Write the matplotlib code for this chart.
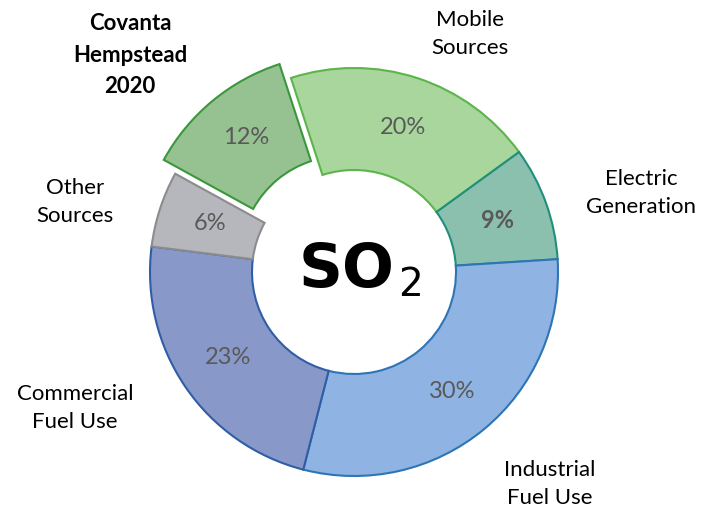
import matplotlib.pyplot as plt

labels = ["Mobile\nSources", "Electric\nGeneration", "Industrial\nFuel Use",
          "Commercial\nFuel Use", "Other\nSources", "Covanta\nHempstead\n2020"]
shares = [20, 9, 30, 23, 6, 12]
fills = ["#a8d69c", "#8cc0ae", "#8fb3e2", "#8898c9", "#b6b7bc", "#96c292"]
edges = ["#5cb54a", "#1f8f7c", "#2e75b6", "#2f5ea6", "#8c8c8c", "#3b973b"]
explode = [0, 0, 0, 0, 0, 18]   # pixels, pie does not scale it by radius

# where the outside names and the % labels sit (pixel coords, y from top)
name_pos = [(470, 34), (641, 193), (550, 484), (75, 408), (75, 202), (130, 55)]
pct_pos = [(403, 128), (497, 220), (452, 392), (228, 357), (210, 224), (246, 138)]

W, H = 704, 514
fig = plt.figure(figsize=(W / 100, H / 100), dpi=100)
ax = fig.add_axes([0, 0, 1, 1])

cx, cy, R = 354, H - 272, 204
wedges, _ = ax.pie(shares, radius=R, center=(cx, cy), startangle=108,
                   counterclock=False, explode=explode, colors=fills,
                   wedgeprops=dict(width=R * 0.5, linewidth=1.5))
for w, e in zip(wedges, edges):
    w.set_edgecolor(e)

# pie resets the limits, so set them afterwards
ax.set_xlim(0, W)
ax.set_ylim(0, H)
ax.set_aspect("equal")
ax.axis("off")

for i, (lab, (x, y)) in enumerate(zip(labels, name_pos)):
    bold = i == 5
    ax.text(x, H - y, lab, ha="center", va="center", fontsize=16,
            family="Lato", fontweight="bold" if bold else "normal",
            color="black", linespacing=1.6 if bold else 1.55)

for i, (v, (x, y)) in enumerate(zip(shares, pct_pos)):
    ax.text(x, H - y, f"{v}%", ha="center", va="center", fontsize=17,
            family="Lato", color="#595959",
            fontweight="bold" if i == 1 else "normal")

# big formula in the hole: "SO" plus a smaller "2" set beside it
ax.text(395, H - 270, "SO", ha="right", va="center", fontsize=44,
        family="DejaVu Sans", fontweight="bold", color="black")
ax.text(398, H - 285, "2", ha="left", va="center", fontsize=28,
        family="DejaVu Sans", color="black")

fig.savefig("out.png", dpi=100)
